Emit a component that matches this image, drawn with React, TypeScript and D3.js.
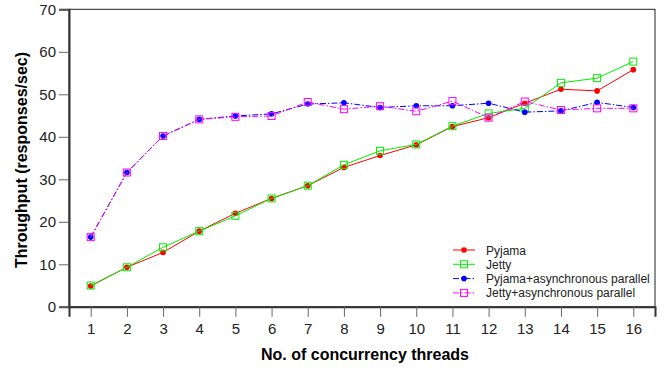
import React, { useEffect, useRef } from 'react';
import * as d3 from 'd3';

// concurrency threads on the x axis
const threads = [1, 2, 3, 4, 5, 6, 7, 8, 9, 10, 11, 12, 13, 14, 15, 16];

// throughput values (responses/sec)
const pyjama = [4.9, 9.3, 12.8, 17.8, 22.0, 25.5, 28.5, 32.8, 35.6, 38.1, 42.4, 44.5, 47.9, 51.2, 50.8, 55.8];
const jetty = [5.0, 9.3, 14.0, 17.8, 21.4, 25.5, 28.5, 33.4, 36.7, 38.2, 42.5, 45.5, 46.7, 52.7, 53.8, 57.7];
const pyjamaAsync = [16.4, 31.6, 40.2, 44.1, 44.9, 45.4, 47.7, 48.0, 46.9, 47.3, 47.3, 47.9, 45.8, 46.1, 48.1, 46.9];
const jettyAsync = [16.4, 31.6, 40.2, 44.1, 44.7, 44.9, 48.2, 46.5, 47.2, 46.0, 48.4, 44.5, 48.3, 46.3, 46.7, 46.7];

const yTicks = [0, 10, 20, 30, 40, 50, 60, 70];

const seriesList = [
  { name: 'Pyjama', values: pyjama, color: '#ff0000', marker: 'dot', dash: null },
  { name: 'Jetty', values: jetty, color: '#00ee00', marker: 'square', dash: null },
  { name: 'Pyjama+asynchronous parallel', values: pyjamaAsync, color: '#0000ff', marker: 'dot', dash: '6,2,1.5,2' },
  { name: 'Jetty+asynchronous parallel', values: jettyAsync, color: '#ff00ff', marker: 'square', dash: '6,2,1.5,2' },
];

const W = 665;
const H = 370;
const left = 69;
const right = 655;
const top = 9.3;
const bottom = 306.8;
const font = '"Liberation Sans", Arial, Helvetica, sans-serif';

const App = () => {
  const ref = useRef<SVGSVGElement>(null);

  useEffect(() => {
    const svg = d3.select(ref.current);
    svg.selectAll('*').remove();

    const x = d3.scaleLinear().domain([0.4, 16.6]).range([left, right]);
    const y = d3.scaleLinear().domain([0, 70]).range([bottom, top]);

    // white background + frame
    svg.append('rect').attr('width', W).attr('height', H).attr('fill', 'white');
    svg.append('rect')
      .attr('x', left).attr('y', top)
      .attr('width', right - left).attr('height', bottom - top)
      .attr('fill', 'none').attr('stroke', '#222').attr('stroke-width', 1);

    // y axis
    const yAxis = d3.axisLeft(y).tickValues(yTicks).tickSize(10).tickPadding(3);
    const gy = svg.append('g').attr('transform', `translate(${left},0)`).call(yAxis);
    gy.select('.domain').attr('stroke', '#333').attr('stroke-width', 2);
    gy.selectAll('.tick line').attr('stroke', '#666');
    gy.selectAll('.tick text').attr('font-size', 15).attr('font-family', font).attr('fill', '#222');

    // x axis
    const xAxis = d3.axisBottom(x).tickValues(threads).tickSize(10).tickPadding(7);
    const gx = svg.append('g').attr('transform', `translate(0,${bottom})`).call(xAxis);
    gx.select('.domain').attr('stroke', '#333').attr('stroke-width', 2);
    gx.selectAll('.tick line').attr('stroke', '#666');
    gx.selectAll('.tick text').attr('font-size', 15).attr('font-family', font).attr('fill', '#222');

    // axis titles
    svg.append('text')
      .attr('x', 365).attr('y', 360)
      .attr('text-anchor', 'middle')
      .attr('font-size', 16).attr('font-weight', 'bold').attr('font-family', font)
      .text('No. of concurrency threads');
    svg.append('text')
      .attr('transform', `translate(27,160) rotate(-90)`)
      .attr('text-anchor', 'middle')
      .attr('font-size', 16).attr('font-weight', 'bold').attr('font-family', font)
      .text('Throughput (responses/sec)');

    const line = d3.line<number>()
      .x((d, i) => x(threads[i]))
      .y((d) => y(d));

    const drawMarker = (g, cx, cy, s) => {
      if (s.marker === 'dot') {
        g.append('circle').attr('cx', cx).attr('cy', cy).attr('r', 2.8).attr('fill', s.color);
      } else {
        g.append('rect').attr('x', cx - 3.5).attr('y', cy - 3.5).attr('width', 7).attr('height', 7)
          .attr('fill', 'none').attr('stroke', s.color).attr('stroke-width', 1);
      }
    };

    seriesList.forEach((s) => {
      const g = svg.append('g');
      g.append('path')
        .attr('d', line(s.values))
        .attr('fill', 'none')
        .attr('stroke', s.color)
        .attr('stroke-width', 1)
        .attr('stroke-dasharray', s.dash);
      s.values.forEach((v, i) => drawMarker(g, x(threads[i]), y(v), s));
    });

    // legend
    const legend = svg.append('g').attr('transform', 'translate(453,250)');
    seriesList.forEach((s, i) => {
      const row = legend.append('g').attr('transform', `translate(0,${i * 14.3})`);
      row.append('line').attr('x1', 0).attr('x2', 22).attr('y1', 0).attr('y2', 0)
        .attr('stroke', s.color).attr('stroke-width', 1).attr('stroke-dasharray', s.dash);
      drawMarker(row, 11, 0, s);
      row.append('text').attr('x', 33).attr('y', 4.5)
        .attr('font-size', 12).attr('font-family', font).attr('fill', '#222')
        .text(s.name);
    });
  }, []);

  return (
    <svg
      ref={ref}
      width={W}
      height={H}
      style={{ display: 'block', position: 'absolute', left: 0, top: 0 }}
    />
  );
};

export default App;
